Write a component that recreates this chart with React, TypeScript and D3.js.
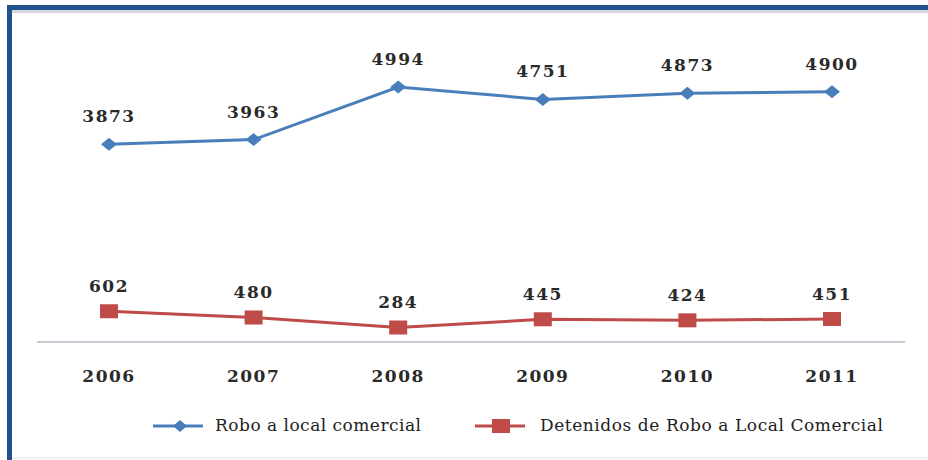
import React from "react";
import * as d3 from "d3";

const years = ["2006", "2007", "2008", "2009", "2010", "2011"];
const robo = [3873, 3963, 4994, 4751, 4873, 4900];
const detenidos = [602, 480, 284, 445, 424, 451];
const seriesNames = ["Robo a local comercial", "Detenidos de Robo a Local Comercial"];

const W = 928;
const H = 460;

export default function App() {
  const x = d3.scalePoint<string>().domain(years).range([109, 832]);
  const y = d3.scaleLinear().domain([0, 6000]).range([342, 35.6]);
  const line = d3
    .line<number>()
    .x((_, i) => x(years[i]) as number)
    .y((d) => y(d));

  const blue = "#4A7EBB";
  const red = "#BE4B48";
  const labelFont = "'DejaVu Serif', serif";

  const diamond = (cx: number, cy: number, rx: number, ry: number) =>
    `M${cx},${cy - ry}L${cx + rx},${cy}L${cx},${cy + ry}L${cx - rx},${cy}Z`;

  return (
    <svg
      width={W}
      height={H}
      style={{ position: "absolute", left: 0, top: 0, background: "#fff" }}
    >
      {/* frame */}
      <rect x={0} y={0} width={W} height={H} fill="#fff" />
      <rect x={7} y={5} width={W - 7} height={5} fill="#22518E" />
      <rect x={12} y={10} width={W - 12} height={3} fill="#D4D8DE" />
      <rect x={7} y={5} width={5} height={H - 5} fill="#22518E" />
      <line x1={12} x2={W} y1={458} y2={458} stroke="#E4E4E4" strokeWidth={1} />

      {/* axis */}
      <line x1={37} x2={905} y1={y(0)} y2={y(0)} stroke="#8C97A6" strokeWidth={1} />
      {years.map((yr) => (
        <text
          key={yr}
          x={x(yr)}
          y={382}
          textAnchor="middle"
          fontFamily={labelFont}
          fontWeight="bold"
          fontSize={17}
          letterSpacing={1.5}
          fill="#2a2a2a"
        >
          {yr}
        </text>
      ))}

      {/* series 1 */}
      <path d={line(robo) as string} fill="none" stroke={blue} strokeWidth={3} />
      {robo.map((v, i) => (
        <g key={"r" + i}>
          <path d={diamond(x(years[i]) as number, y(v), 8, 6.5)} fill={blue} />
          <text
            x={x(years[i])}
            y={y(v) - 22}
            textAnchor="middle"
            fontFamily={labelFont}
            fontWeight="bold"
            fontSize={17}
            letterSpacing={1.5}
            fill="#2a2a2a"
          >
            {v}
          </text>
        </g>
      ))}

      {/* series 2 */}
      <path d={line(detenidos) as string} fill="none" stroke={red} strokeWidth={3} />
      {detenidos.map((v, i) => (
        <g key={"d" + i}>
          <rect
            x={(x(years[i]) as number) - 9}
            y={y(v) - 7}
            width={18}
            height={14}
            fill={red}
          />
          <text
            x={x(years[i])}
            y={y(v) - 19}
            textAnchor="middle"
            fontFamily={labelFont}
            fontWeight="bold"
            fontSize={17}
            letterSpacing={1.5}
            fill="#2a2a2a"
          >
            {v}
          </text>
        </g>
      ))}

      {/* legend */}
      <line x1={153} x2={203} y1={426} y2={426} stroke={blue} strokeWidth={3} />
      <path d={diamond(180, 426, 7, 6)} fill={blue} />
      <text
        x={215}
        y={431}
        fontFamily={labelFont}
        fontSize={17}
        textLength={206}
        lengthAdjust="spacing"
        fill="#222"
      >
        {seriesNames[0]}
      </text>
      <line x1={475} x2={525} y1={426} y2={426} stroke={red} strokeWidth={3} />
      <rect x={492} y={419} width={18} height={14} fill={red} />
      <text
        x={540}
        y={431}
        fontFamily={labelFont}
        fontSize={17}
        textLength={343}
        lengthAdjust="spacing"
        fill="#222"
      >
        {seriesNames[1]}
      </text>
    </svg>
  );
}
